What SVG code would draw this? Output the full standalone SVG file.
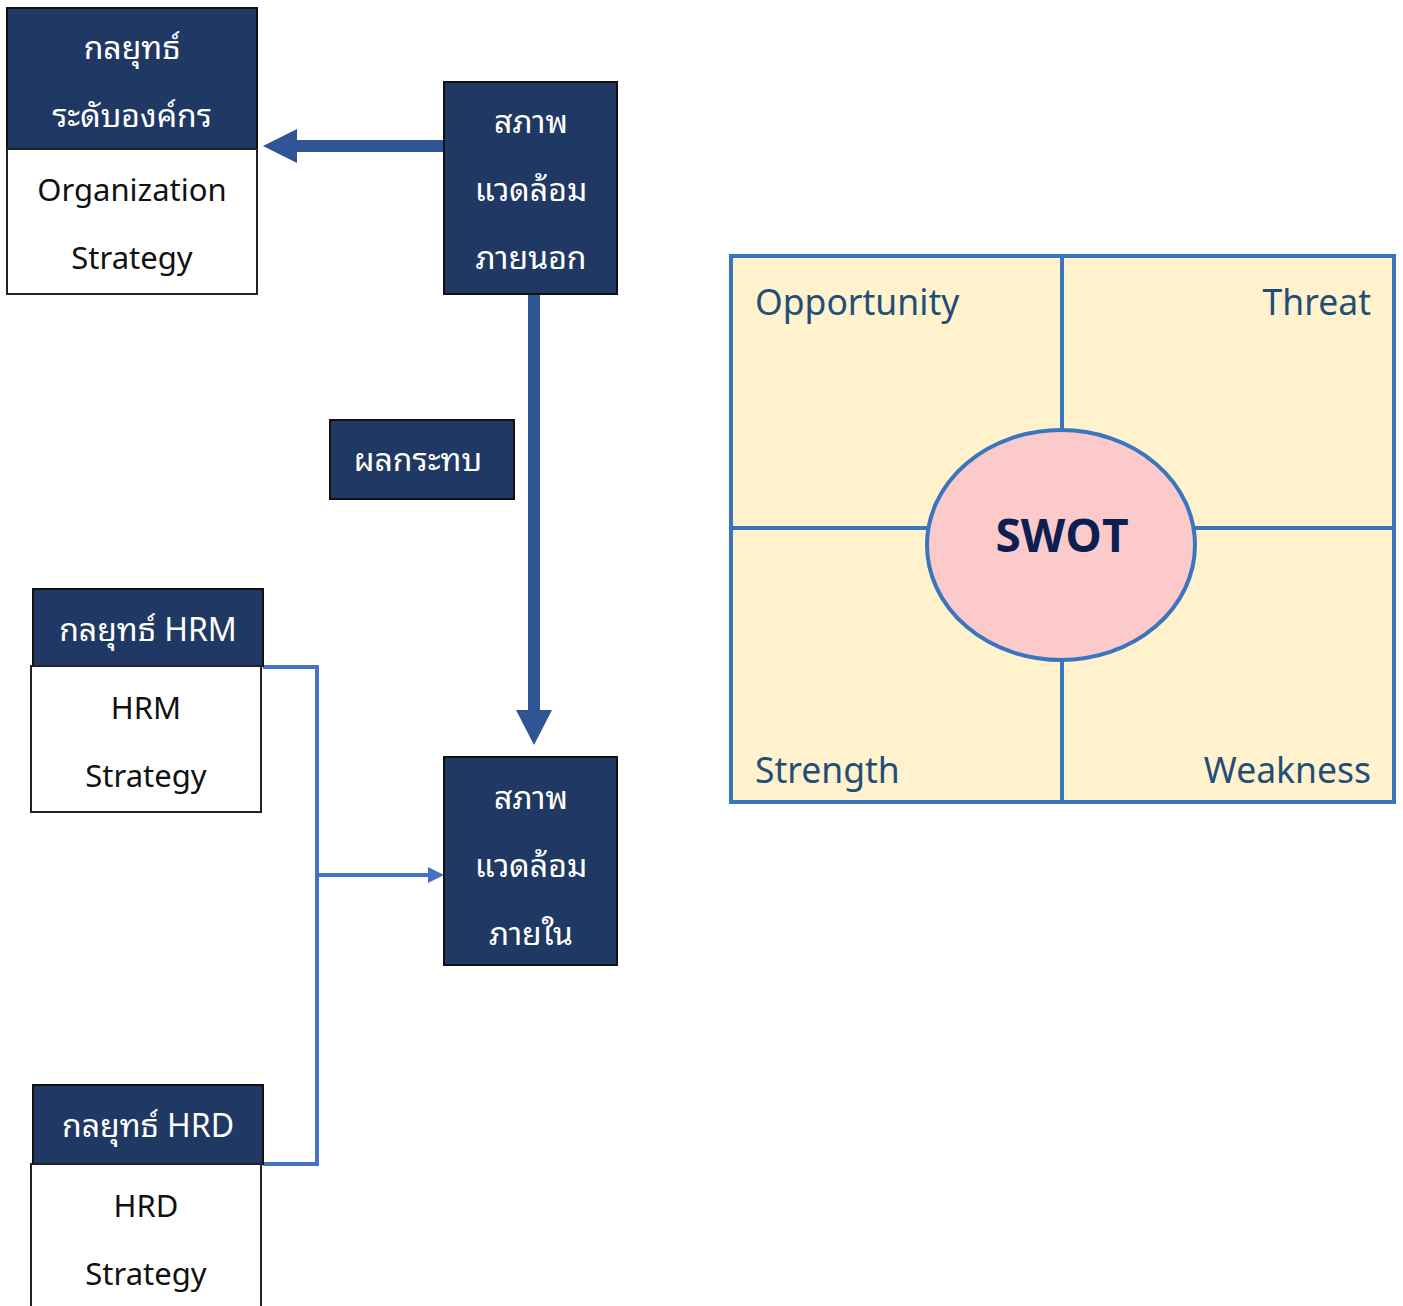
<svg xmlns="http://www.w3.org/2000/svg" width="1403" height="1306" viewBox="0 0 1403 1306">
<style>
.dark{fill:#1F3864;stroke:#111;stroke-width:2}
.light{fill:#fff;stroke:#222;stroke-width:2}
.wt{fill:#fff;font-family:"Noto Sans Thai Looped","Noto Sans Thai","Noto Sans","Open Sans",sans-serif;font-size:32px;text-anchor:middle;dominant-baseline:central}
.bt{fill:#111;font-family:"Noto Sans","Open Sans",sans-serif;font-size:31px;text-anchor:middle;dominant-baseline:central}
.thin{fill:none;stroke:#4472C4;stroke-width:4}
.sw{fill:#1F4E79;font-family:"Noto Sans","Open Sans",sans-serif;font-size:35.5px}
</style>
<rect width="1403" height="1306" fill="#fff"/>

<g id="connectors">
<rect x="297" y="140" width="147" height="12" fill="#2F5597"/>
<polygon points="263,146 297,129 297,163" fill="#2F5597"/>
<rect x="528" y="294" width="12" height="418" fill="#2F5597"/>
<polygon points="516,710 552,710 534,745" fill="#2F5597"/>
<path class="thin" d="M263,667 H317 V1164 H263"/>
<path class="thin" d="M317,875 H430"/>
<polygon points="428,867 444,875 428,883" fill="#4472C4"/>
</g>

<g id="org">
<rect class="dark" x="7" y="8" width="250" height="141"/>
<rect class="light" x="7" y="149" width="250" height="145"/>
<text class="wt" x="132" y="44">กลยุทธ์</text>
<text class="wt" x="132" y="112">ระดับองค์กร</text>
<text class="bt" x="132" y="189">Organization</text>
<text class="bt" x="132" y="257">Strategy</text>
</g>

<g id="external">
<rect class="dark" x="444" y="82" width="173" height="212"/>
<text class="wt" x="531" y="118">สภาพ</text>
<text class="wt" x="531" y="186">แวดล้อม</text>
<text class="wt" x="531" y="254">ภายนอก</text>
</g>

<g id="impact">
<rect class="dark" x="330" y="420" width="184" height="79"/>
<text class="wt" x="418" y="456">ผลกระทบ</text>
</g>

<g id="internal">
<rect class="dark" x="444" y="757" width="173" height="208"/>
<text class="wt" x="531" y="794">สภาพ</text>
<text class="wt" x="531" y="862">แวดล้อม</text>
<text class="wt" x="531" y="930">ภายใน</text>
</g>

<g id="hrm">
<rect class="dark" x="33" y="589" width="230" height="77"/>
<rect class="light" x="31" y="666" width="230" height="146"/>
<text class="wt" x="148" y="626">กลยุทธ์ HRM</text>
<text class="bt" x="146" y="707">HRM</text>
<text class="bt" x="146" y="775">Strategy</text>
</g>

<g id="hrd">
<rect class="dark" x="33" y="1085" width="230" height="79"/>
<rect class="light" x="31" y="1164" width="230" height="150"/>
<text class="wt" x="148" y="1122">กลยุทธ์ HRD</text>
<text class="bt" x="146" y="1205">HRD</text>
<text class="bt" x="146" y="1273">Strategy</text>
</g>

<g id="swot">
<rect x="731" y="256" width="663" height="546" fill="#FFF2CC" stroke="#3A76BF" stroke-width="4"/>
<line x1="1062" y1="256" x2="1062" y2="802" stroke="#3A76BF" stroke-width="4"/>
<line x1="731" y1="528" x2="1394" y2="528" stroke="#3A76BF" stroke-width="4"/>
<ellipse cx="1061" cy="545" rx="134" ry="115" fill="#FCCACB" stroke="#3A76BF" stroke-width="4"/>
<text class="sw" x="755" y="315">Opportunity</text>
<text class="sw" x="1371" y="315" text-anchor="end">Threat</text>
<text class="sw" x="755" y="783">Strength</text>
<text class="sw" x="1371" y="783" text-anchor="end">Weakness</text>
<text x="1062" y="552" text-anchor="middle" font-family="Open Sans, Noto Sans, sans-serif" font-weight="bold" font-size="46" fill="#0B1F52">SWOT</text>
</g>
</svg>
